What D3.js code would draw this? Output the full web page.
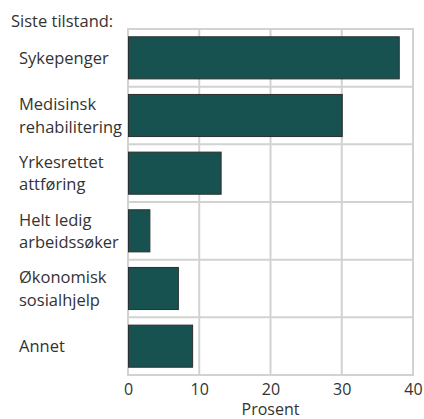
<!DOCTYPE html>
<html>
<head>
<meta charset="utf-8">
<style>
  body { margin: 0; background: #fff; }
  text { font-family: "Open Sans", sans-serif; fill: #333; }
</style>
</head>
<body>
<script src="https://cdn.jsdelivr.net/npm/d3@7"></script>
<script>
// data
var categories = [
  ["Sykepenger"],
  ["Medisinsk", "rehabilitering"],
  ["Yrkesrettet", "attføring"],
  ["Helt ledig", "arbeidssøker"],
  ["Økonomisk", "sosialhjelp"],
  ["Annet"]
];
var values = [38, 30, 13, 3, 7, 9];
var xTicks = [0, 10, 20, 30, 40];

var W = 424, H = 419;
var margin = {top: 29, right: 11, bottom: 44, left: 128};
var width = W - margin.left - margin.right,
    height = H - margin.top - margin.bottom;

var data = categories.map(function(c, i) { return {key: i, lines: c, value: values[i]}; });

var svg = d3.select("body").append("svg")
    .attr("width", W)
    .attr("height", H);

var g = svg.append("g")
    .attr("transform", "translate(" + margin.left + "," + margin.top + ")");

var x = d3.scaleLinear().domain([0, 40]).range([0, width]);
var y = d3.scaleBand()
    .domain(data.map(function(d) { return d.key; }))
    .range([0, height])
    .paddingInner(0.27)
    .paddingOuter(0.135);

var step = y.step();

// grid
var grid = g.append("g").attr("stroke", "#d2d2d2").attr("stroke-width", 2);
grid.selectAll(".v").data(xTicks).enter().append("line")
    .attr("x1", function(d) { return x(d); })
    .attr("x2", function(d) { return x(d); })
    .attr("y1", -1)
    .attr("y2", height + 1);
grid.selectAll(".h").data(d3.range(categories.length + 1)).enter().append("line")
    .attr("x1", -1)
    .attr("x2", width + 1)
    .attr("y1", function(i) { return i * step; })
    .attr("y2", function(i) { return i * step; });

// bars
g.selectAll(".bar").data(data).enter().append("rect")
    .attr("x", x(0) + 0.5)
    .attr("y", function(d) { return y(d.key); })
    .attr("width", function(d) { return x(d.value) - x(0); })
    .attr("height", y.bandwidth())
    .attr("fill", "#175150")
    .attr("stroke", "#2b2f2f")
    .attr("stroke-width", 1);

// category labels
var lineH = 22.6;
var labels = svg.append("g").attr("font-size", "16.5px");
data.forEach(function(d) {
  var cy = margin.top + y(d.key) + y.bandwidth() / 2;
  var n = d.lines.length;
  var t = labels.append("text").attr("x", 19);
  d.lines.forEach(function(line, j) {
    t.append("tspan")
      .attr("x", 19)
      .attr("y", cy + (j - (n - 1) / 2) * lineH + 6)
      .text(line);
  });
});

svg.append("text")
    .attr("x", 11)
    .attr("y", 27)
    .attr("font-size", "16.5px")
    .text("Siste tilstand:");

// x axis
var xAxis = d3.axisBottom(x).tickValues(xTicks).tickSize(0).tickPadding(0);
var ax = g.append("g")
    .attr("transform", "translate(0," + height + ")")
    .call(xAxis);
ax.select(".domain").remove();
ax.selectAll("text")
    .attr("dy", "20px")
    .style("font-size", "16px")
    .style("font-family", "'Open Sans', sans-serif")
    .style("fill", "#333");

svg.append("text")
    .attr("x", margin.left + width / 2)
    .attr("y", 415)
    .attr("text-anchor", "middle")
    .attr("font-size", "16px")
    .text("Prosent");
</script>
</body>
</html>
